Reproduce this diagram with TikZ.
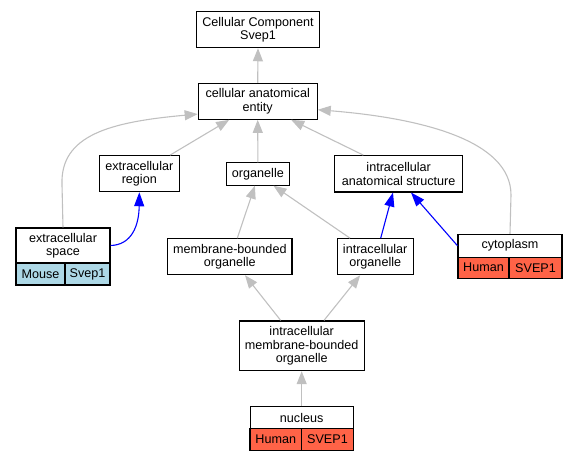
\documentclass[tikz,border=0pt]{standalone}
\usepackage{fontspec}
\setmainfont{Liberation Sans}
\usetikzlibrary{arrows.meta}
\definecolor{edgegray}{HTML}{C0C0C0}
\definecolor{mouseblue}{HTML}{ADD8E6}
\definecolor{humanred}{HTML}{FF6347}
\begin{document}
\begin{tikzpicture}[x=1pt,y=-1pt,
  box/.style={draw=black, line width=1.1pt, fill=white, inner sep=0pt, align=center,
    font=\fontsize{12.6}{13.4}\selectfont},
  mousecell/.style={box, fill=mouseblue},
  humancell/.style={box, fill=humanred},
  gedge/.style={draw=edgegray, line width=1.1pt, -{Triangle[length=13pt,width=10pt]}},
  bedge/.style={draw=blue, line width=1.1pt, -{Triangle[length=14pt,width=10pt]}},
]
\useasboundingbox (0,0) rectangle (576,461);
% plain nodes
\node[box, minimum width=122.6pt, minimum height=36pt] (cc) at (258,29.7) {Cellular Component\\Svep1};
\node[box, minimum width=119pt, minimum height=36pt] (cae) at (257.7,101.3) {cellular anatomical\\entity};
\node[box, minimum width=80pt, minimum height=36pt] (er) at (139.3,173.7) {extracellular\\region};
\node[box, minimum width=62.3pt, minimum height=22.3pt] (org) at (257.9,174) {organelle};
\node[box, minimum width=128pt, minimum height=36.3pt] (ias) at (398.7,173.8) {intracellular\\anatomical structure};
\node[box, minimum width=124.3pt, minimum height=36pt] (mbo) at (229.8,256.7) {membrane-bounded\\organelle};
\node[box, minimum width=76.3pt, minimum height=36pt] (io) at (375.2,256.7) {intracellular\\organelle};
\node[box, minimum width=124.7pt, minimum height=49.7pt] (imbo) at (301.7,345.8) {intracellular\\membrane-bounded\\organelle};
% record nodes
\node[box, minimum width=94pt, minimum height=35pt] (es) at (63,245.5) {extracellular\\space};
\node[mousecell, minimum width=49pt, minimum height=22pt] (esm) at (40.5,274) {Mouse};
\node[mousecell, minimum width=45pt, minimum height=22pt] (ess) at (87.5,274) {Svep1};
\node[box, minimum width=104pt, minimum height=22.7pt] (cyto) at (510,245.7) {cytoplasm};
\node[humancell, minimum width=51pt, minimum height=21.3pt] (cytoh) at (483.5,267.7) {Human};
\node[humancell, minimum width=53pt, minimum height=21.3pt] (cytos) at (535.5,267.7) {SVEP1};
\node[box, minimum width=103.3pt, minimum height=21.6pt] (nuc) at (301.7,417.5) {nucleus};
\node[humancell, minimum width=51.7pt, minimum height=22.4pt] (nuch) at (275.8,439.5) {Human};
\node[humancell, minimum width=51.6pt, minimum height=22.4pt] (nucs) at (327.5,439.5) {SVEP1};
% gray edges
\draw[gedge] (cae.north) -- (cc.south);
\draw[gedge] ([xshift=30.7pt]er.north) -- ([xshift=-28.5pt]cae.south);
\draw[gedge] (org.north) -- (cae.south);
\draw[gedge] ([xshift=-35.4pt]ias.north) -- ([xshift=33.5pt]cae.south);
\draw[gedge] (es.north) -- (62,185) .. controls (60,135) and (110,122) .. (cae.192);
\draw[gedge] (cyto.north) -- (511,195) .. controls (511,140) and (420,118) .. (cae.352);
\draw[gedge] ([xshift=7.5pt]mbo.north) -- ([xshift=-3pt]org.south);
\draw[gedge] ([xshift=-25.2pt]io.north) -- ([xshift=15.6pt]org.south);
\draw[gedge] ([xshift=-21pt]imbo.north) -- ([xshift=15.2pt]mbo.south);
\draw[gedge] ([xshift=22.3pt]imbo.north) -- ([xshift=-15pt]io.south);
\draw[gedge] (nuc.north) -- (imbo.south);
% blue edges
\draw[bedge] (es.east) .. controls (132,245) and (139,225) .. (er.south);
\draw[bedge] ([xshift=5.5pt]io.north) -- ([xshift=-5.7pt]ias.south);
\draw[bedge] (cyto.west) -- ([xshift=12.3pt]ias.south);
\end{tikzpicture}
\end{document}
